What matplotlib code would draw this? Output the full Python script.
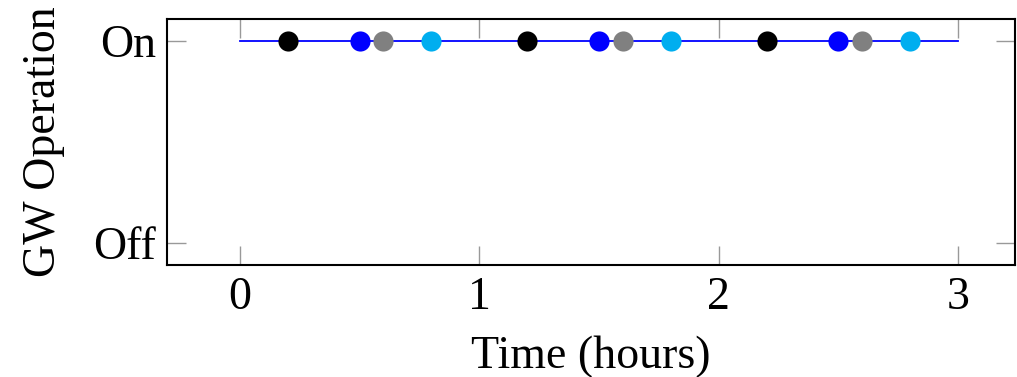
import matplotlib
matplotlib.use('Agg')
import matplotlib.pyplot as plt

# GW operation line (on from 0 to 3 h)
line_t = [0, 3]
line_state = [1, 1]

# event markers (time in hours)
black_t = [0.2, 1.2, 2.2]
blue_t = [0.5, 1.5, 2.5]
gray_t = [0.6, 1.6, 2.6]
cyan_t = [0.8, 1.8, 2.8]

x_ticks = [0, 1, 2, 3]
y_ticks = [0, 1]
y_labels = ["Off", "On"]

plt.rcParams['font.family'] = ['Liberation Serif', 'DejaVu Serif']

fig = plt.figure(figsize=(10.17, 3.77), dpi=100)
ax = fig.add_axes([0.1642, 0.297, 0.8338, 0.6526])

ax.plot(line_t, line_state, color='#0000ff', lw=1.3, zorder=2)
for ts, c in [(black_t, 'black'), (blue_t, '#0000ff'), (gray_t, '#808080'), (cyan_t, '#00aeef')]:
    ax.plot(ts, [1] * len(ts), 'o', color=c, markersize=14.5, markeredgewidth=0, zorder=3)

ax.set_xlim(-0.304, 3.2375)
ax.set_ylim(-0.109, 1.109)
ax.set_xticks(x_ticks)
ax.set_yticks(y_ticks)
ax.set_yticklabels(y_labels)
ax.tick_params(direction='in', length=14, width=1, color='#999999',
               top=True, right=True, labelsize=33, pad=8)
for s in ax.spines.values():
    s.set_linewidth(1.5)

ax.set_xlabel("Time (hours)", fontsize=33, labelpad=12)
ax.set_ylabel("GW Operation", fontsize=33, labelpad=20)

plt.savefig('out.png', dpi=100)
